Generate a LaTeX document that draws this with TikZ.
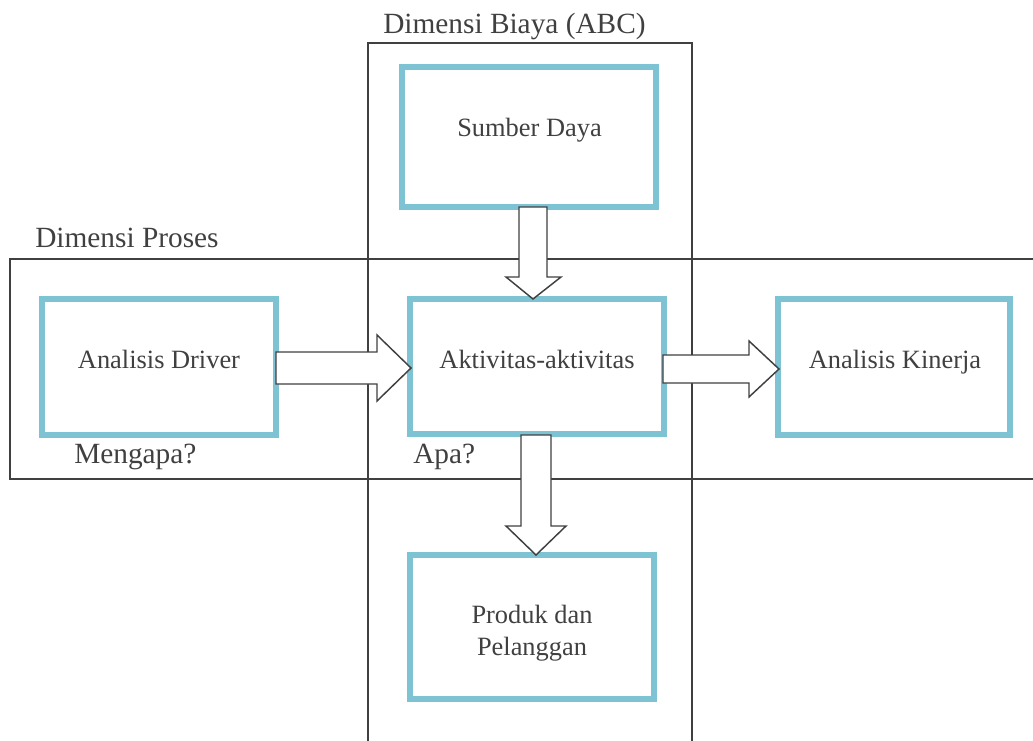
\documentclass[tikz,border=0pt]{standalone}
\usepackage{fontspec}
\setmainfont{Liberation Serif}
\usetikzlibrary{fit}
\definecolor{boxblue}{RGB}{126,195,211}
\definecolor{ink}{RGB}{64,64,64}
\tikzset{
  bluebox/.style={draw=boxblue, line width=4.5pt, inner sep=0pt},
  frame/.style={draw=ink, line width=1.1pt},
  blockarrow/.style={draw=ink, fill=white, line width=1.1pt, line join=miter},
  boxtext/.style={text=ink, font=\fontsize{19.8}{24}\selectfont, anchor=base, inner sep=0pt},
  dimlabel/.style={text=ink, font=\fontsize{22}{26}\selectfont, anchor=base west, inner sep=0pt}
}
\begin{document}
\begin{tikzpicture}[x=0.75pt, y=-0.75pt]
\useasboundingbox (0,0) rectangle (1033,740);
% frames
\draw[frame] (368,43) rectangle (692,760);
\draw[frame] (10,259) rectangle (1050,479);
% boxes
\node[bluebox, fit={(402,67) (656,207)}] (sd) {};
\node[bluebox, fit={(410,299) (664,434)}] (ak) {};
\node[bluebox, fit={(42,299) (276,435)}] (ad) {};
\node[bluebox, fit={(778,299) (1010,435)}] (kn) {};
\node[bluebox, fit={(410,555) (654,699)}] (pr) {};
% box texts
\node[boxtext] (sdt) at (529.5,136) {Sumber Daya};
\node[boxtext] (akt) at (537,368) {Aktivitas-aktivitas};
\node[boxtext] (adt) at (159,368) {Analisis Driver};
\node[boxtext] (knt) at (895,368) {Analisis Kinerja};
\node[boxtext, align=center, font=\fontsize{19.8}{24}\selectfont] (prt) at (532,655) {Produk dan\\Pelanggan};
% dimension labels
\node[dimlabel] (dimb) at (383,33) {Dimensi Biaya (ABC)};
\node[dimlabel] (dimp) at (35,247) {Dimensi Proses};
\node[dimlabel] (why) at (74,463) {Mengapa?};
\node[dimlabel] (what) at (413,463) {Apa?};
% block arrows
\draw[blockarrow] (519,207) -- (547,207) -- (547,277) -- (561,277) -- (533,299) -- (506,277) -- (519,277) -- cycle;
\draw[blockarrow] (276,352) -- (377,352) -- (377,335) -- (411,368) -- (377,401) -- (377,384) -- (276,384) -- cycle;
\draw[blockarrow] (663,355) -- (749,355) -- (749,341) -- (779,369) -- (749,397) -- (749,383) -- (663,383) -- cycle;
\draw[blockarrow] (521,435) -- (551,435) -- (551,526) -- (566,526) -- (536,555) -- (506,526) -- (521,526) -- cycle;
\end{tikzpicture}
\end{document}
